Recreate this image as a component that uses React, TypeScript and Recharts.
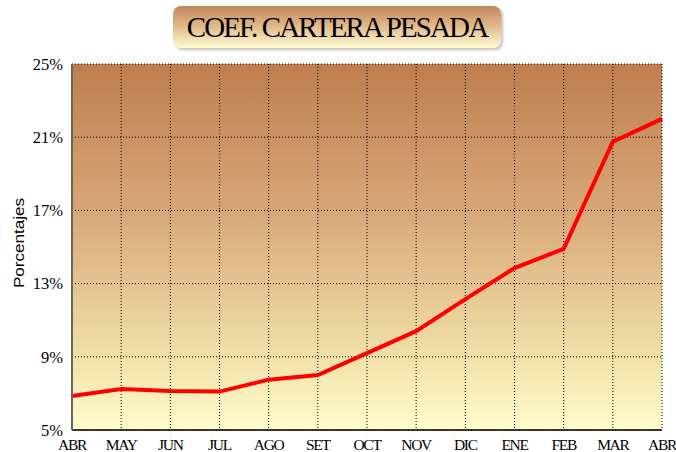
import { LineChart, Line, XAxis, YAxis, CartesianGrid } from "recharts"

const months = ["ABR", "MAY", "JUN", "JUL", "AGO", "SET", "OCT", "NOV", "DIC", "ENE", "FEB", "MAR", "ABR"]
const coef = [6.86, 7.24, 7.13, 7.1, 7.75, 8.0, 9.2, 10.4, 12.15, 13.85, 14.9, 20.75, 22.0]
const yTicks = [5, 9, 13, 17, 21, 25]

const data = months.map((m, i) => ({ mes: m, valor: coef[i] }))

const serif = "'Liberation Serif', 'Times New Roman', serif"

// etiquetas del eje X, letras apretadas como en el original
function MesTick(props: any) {
    const { x, y, payload } = props
    return (
        <g transform={`translate(${x},${y})`}>
            <text
                textAnchor="middle"
                y={13}
                fontFamily={serif}
                fontSize={15.5}
                letterSpacing={-1.3}
                fill="#000"
            >
                {payload.value}
            </text>
        </g>
    )
}

export default function App() {
    return (
        <div style={{ position: "absolute", left: 0, top: 0, width: 676, height: 452, background: "#fff" }}>
            <div
                style={{
                    position: "absolute", left: 173, top: 6, width: 328, height: 42,
                    borderRadius: 8,
                    background: "linear-gradient(to bottom, #c4855a 0%, #dfb688 45%, #fffbd2 100%)",
                    boxShadow: "2px 2px 3px rgba(0,0,0,0.25)",
                    display: "flex", alignItems: "center", justifyContent: "center",
                    fontFamily: serif, fontSize: 29, letterSpacing: -1.9, color: "#000",
                }}
            >
                COEF. CARTERA PESADA
            </div>
            <div style={{ position: "absolute", left: 18.5, top: 243, width: 0, height: 0 }}>
                <div
                    style={{
                        position: "absolute", left: 0, top: 0,
                        transform: "translate(-50%, -50%) rotate(-90deg) scaleX(1.22)",
                        fontFamily: "'Liberation Sans', Arial, sans-serif",
                        fontSize: 14, lineHeight: "14px", whiteSpace: "nowrap", color: "#000",
                    }}
                >
                    Porcentajes
                </div>
            </div>
            <LineChart width={676} height={452} data={data} margin={{ top: 64, right: 14, left: 0, bottom: 2 }}>
                <defs>
                    <linearGradient id="fondo" x1="0" y1="0" x2="0" y2="1">
                        <stop offset="0%" stopColor="#c07e4f" />
                        <stop offset="40%" stopColor="#d7a777" />
                        <stop offset="80%" stopColor="#f1e0a8" />
                        <stop offset="100%" stopColor="#fffccc" />
                    </linearGradient>
                </defs>
                <CartesianGrid fill="url(#fondo)" fillOpacity={1} stroke="#000" strokeDasharray="1 2" />
                <XAxis
                    dataKey="mes"
                    height={20}
                    interval={0}
                    tickSize={0}
                    tickMargin={7}
                    axisLine={{ stroke: "#000", strokeWidth: 1.5 }}
                    tick={<MesTick />}
                />
                <YAxis
                    width={72}
                    domain={[5, 25]}
                    ticks={yTicks}
                    interval={0}
                    tickSize={0}
                    tickMargin={9}
                    tickFormatter={(v) => `${v}%`}
                    axisLine={{ stroke: "#666", strokeWidth: 2 }}
                    tick={{ fontFamily: serif, fontSize: 16.5, fill: "#000" }}
                />
                <Line
                    type="linear"
                    dataKey="valor"
                    stroke="#ff0000"
                    strokeWidth={4}
                    dot={false}
                    isAnimationActive={false}
                />
            </LineChart>
        </div>
    )
}
